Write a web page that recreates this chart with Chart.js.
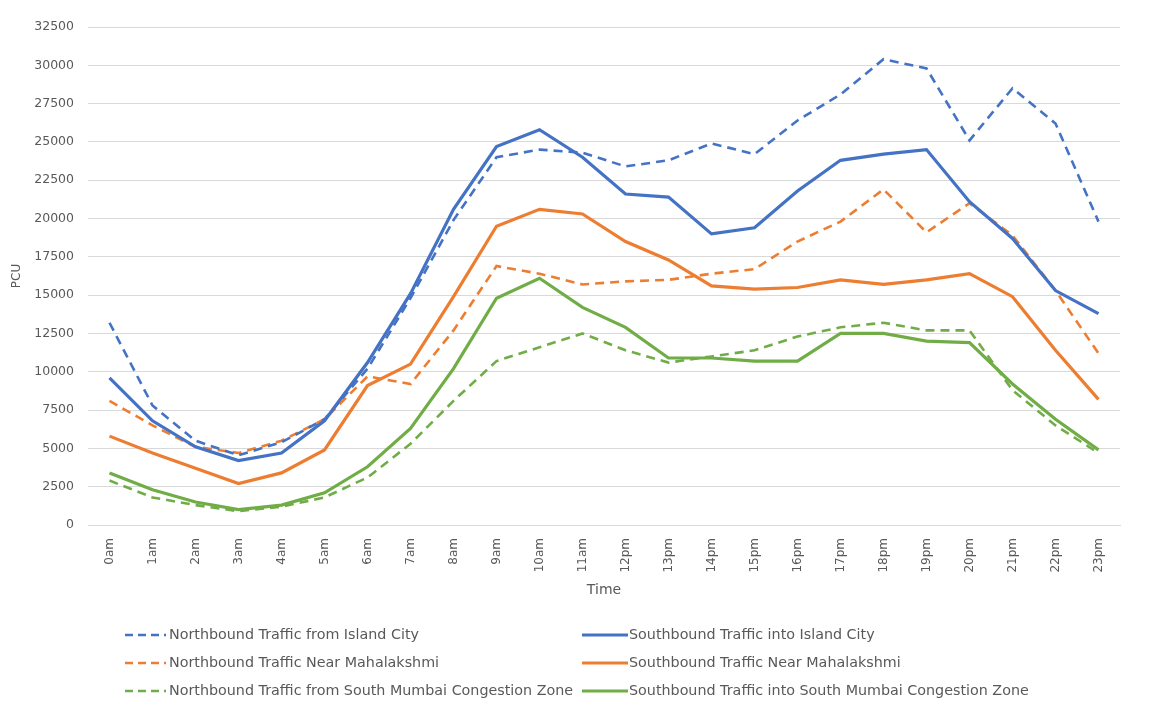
<!DOCTYPE html>
<html>
<head>
<meta charset="utf-8">
<script src="https://cdn.jsdelivr.net/npm/chart.js@4.4.1/dist/chart.umd.min.js"></script>
<style>
  html, body { margin: 0; padding: 0; background: #ffffff; }
  #wrap { width: 1153px; height: 701px; position: relative; }
</style>
</head>
<body>
<div id="wrap"><canvas id="c" width="1153" height="701"></canvas></div>
<script>
// Hourly traffic volumes (PCU) at the three screen lines
const hours = ['0am','1am','2am','3am','4am','5am','6am','7am','8am','9am','10am','11am',
               '12pm','13pm','14pm','15pm','16pm','17pm','18pm','19pm','20pm','21pm','22pm','23pm'];

const nbIslandCity = [13200, 7800, 5500, 4550, 5400, 6900, 10200, 14800, 19900, 24000, 24500, 24300,
                      23400, 23800, 24900, 24200, 26400, 28100, 30400, 29800, 25100, 28500, 26200, 19800];
const sbIslandCity = [9600, 6800, 5100, 4200, 4700, 6800, 10600, 15100, 20600, 24700, 25800, 24000,
                      21600, 21400, 19000, 19400, 21800, 23800, 24200, 24500, 21100, 18700, 15300, 13800];
const nbMahalakshmi = [8100, 6500, 5100, 4700, 5500, 6900, 9700, 9200, 12700, 16900, 16400, 15700,
                       15900, 16000, 16400, 16700, 18500, 19800, 21900, 19100, 21000, 18900, 15300, 11200];
const sbMahalakshmi = [5800, 4700, 3700, 2700, 3400, 4900, 9100, 10500, 14900, 19500, 20600, 20300,
                       18500, 17300, 15600, 15400, 15500, 16000, 15700, 16000, 16400, 14900, 11400, 8200];
const nbSouthMumbai = [2900, 1800, 1300, 900, 1200, 1800, 3100, 5300, 8100, 10700, 11600, 12500,
                       11400, 10600, 11000, 11400, 12300, 12900, 13200, 12700, 12700, 8800, 6500, 4700];
const sbSouthMumbai = [3400, 2300, 1500, 1000, 1300, 2100, 3800, 6300, 10200, 14800, 16100, 14200,
                       12900, 10900, 10900, 10700, 10700, 12500, 12500, 12000, 11900, 9200, 6900, 4900];

const seriesNames = [
  'Northbound Traffic from Island City',
  'Southbound Traffic into Island City',
  'Northbound Traffic Near Mahalakshmi',
  'Southbound Traffic Near Mahalakshmi',
  'Northbound Traffic from South Mumbai Congestion Zone',
  'Southbound Traffic into South Mumbai Congestion Zone'
];

const BLUE = '#4472C4', ORANGE = '#ED7D31', GREEN = '#70AD47';
const DASH = [9, 6];
const TEXT = '#595959';
const FONT = '"DejaVu Sans", Verdana, sans-serif';

function line(label, data, color, dashed) {
  return {
    label, data,
    borderColor: color,
    backgroundColor: color,
    borderWidth: dashed ? 2.6 : 3.2,
    borderDash: dashed ? DASH : [],
    pointRadius: 0,
    pointHoverRadius: 0,
    tension: 0,
    fill: false
  };
}

// Two-column legend under the plot: northbound on the left, southbound on the right
const twoColumnLegend = {
  id: 'twoColumnLegend',
  afterDraw(chart) {
    const ctx = chart.ctx;
    const rowsY = [635, 663, 691];
    const cols = [{ x0: 125, x1: 166, tx: 169 }, { x0: 582, x1: 628, tx: 629 }];
    ctx.save();
    ctx.font = '14.3px ' + FONT;
    ctx.textBaseline = 'middle';
    chart.data.datasets.forEach((ds, i) => {
      const col = cols[i % 2];
      const y = rowsY[Math.floor(i / 2)];
      ctx.beginPath();
      ctx.strokeStyle = ds.borderColor;
      ctx.lineWidth = ds.borderWidth;
      ctx.setLineDash(ds.borderDash && ds.borderDash.length ? [8, 5] : []);
      ctx.moveTo(col.x0, y);
      ctx.lineTo(col.x1, y);
      ctx.stroke();
      ctx.setLineDash([]);
      ctx.fillStyle = TEXT;
      ctx.fillText(ds.label, col.tx, y);
    });
    ctx.restore();
  }
};

new Chart(document.getElementById('c'), {
  type: 'line',
  data: {
    labels: hours,
    datasets: [
      line(seriesNames[0], nbIslandCity, BLUE, true),
      line(seriesNames[1], sbIslandCity, BLUE, false),
      line(seriesNames[2], nbMahalakshmi, ORANGE, true),
      line(seriesNames[3], sbMahalakshmi, ORANGE, false),
      line(seriesNames[4], nbSouthMumbai, GREEN, true),
      line(seriesNames[5], sbSouthMumbai, GREEN, false)
    ]
  },
  options: {
    responsive: false,
    animation: false,
    layout: { padding: { left: 0, right: 33, top: 27, bottom: 100 } },
    plugins: {
      legend: { display: false },
      tooltip: { enabled: false }
    },
    scales: {
      x: {
        offset: true,
        grid: { display: false, drawTicks: false },
        border: { display: true, color: '#d9d9d9', width: 1 },
        ticks: {
          color: TEXT,
          font: { size: 12, family: FONT },
          minRotation: 90, maxRotation: 90,
          padding: 13,
          autoSkip: false
        },
        title: {
          display: true, text: 'Time', color: TEXT,
          font: { size: 14, family: FONT },
          padding: { top: 4, bottom: 2 }
        },
        afterFit(scale) { scale.height = 76; }
      },
      y: {
        min: 0, max: 32500,
        grid: { color: '#d9d9d9', lineWidth: 1, drawTicks: false },
        border: { display: false },
        ticks: {
          stepSize: 2500,
          color: TEXT,
          padding: 14,
          font: { size: 12.5, family: FONT },
          callback: v => String(v)
        },
        title: {
          display: true, text: 'PCU', color: TEXT,
          font: { size: 12, family: FONT },
          padding: { top: 10, bottom: 0 }
        },
        afterFit(scale) { scale.width = 88; }
      }
    }
  },
  plugins: [twoColumnLegend]
});
</script>
</body>
</html>
